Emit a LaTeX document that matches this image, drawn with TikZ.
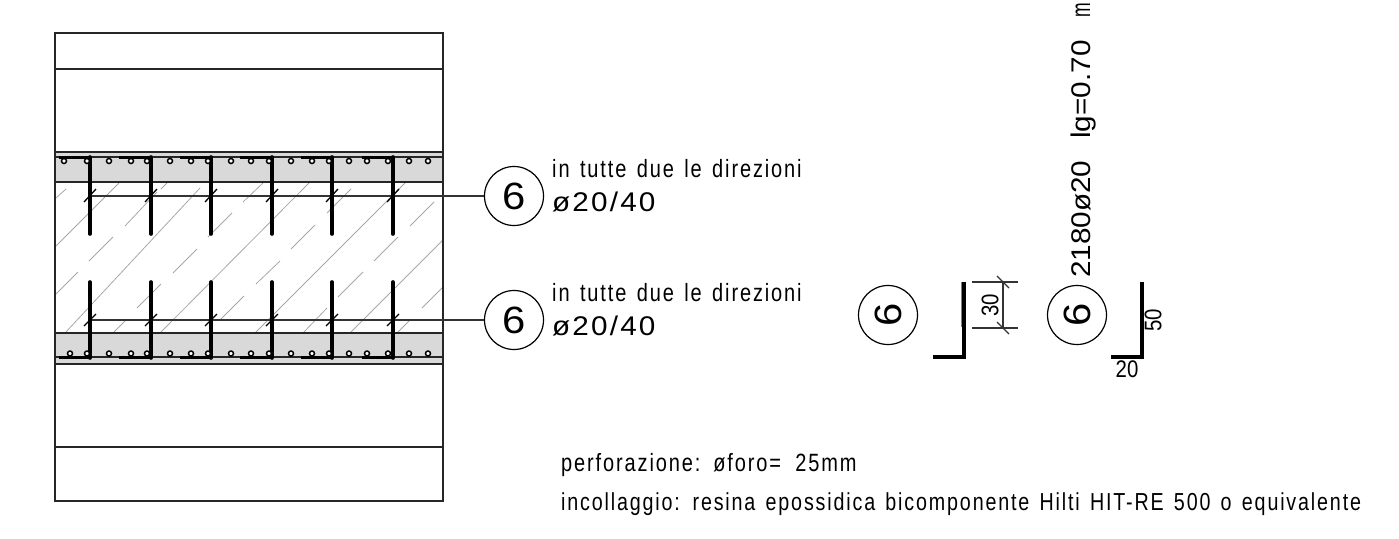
\documentclass[tikz,border=0pt]{standalone}
\usepackage{fontspec}
\newfontfamily\txtfont[FakeStretch=0.8,LetterSpace=7.5,WordSpace=1.4]{Liberation Sans}
\newfontfamily\dimfont[FakeStretch=0.85]{Liberation Sans}
\newfontfamily\numfont[FakeStretch=1.1]{Liberation Sans}
\newfontfamily\narrowfont[FakeStretch=0.65]{Liberation Sans}
\newfontfamily\sizefont[FakeStretch=1.1,LetterSpace=8]{Liberation Sans}
\definecolor{bandgray}{HTML}{D9D9D9}
\definecolor{hatchgray}{HTML}{A8A8A8}
\tikzset{
  contour/.style={line width=1.5pt,draw=black!85},
  hatchline/.style={line width=0.8pt,draw=hatchgray},
  barline/.style={line width=3.6pt,line cap=round,draw=black},
  hookline/.style={line width=3pt,draw=black},
  thinline/.style={line width=1.2pt,draw=black!80},
  rebar/.style={line width=1.5pt,fill=white},
  markcircle/.style={circle,draw,line width=1.2pt,minimum size=59pt,inner sep=0pt,font=\numfont\fontsize{38}{38}\selectfont},
  notetext/.style={anchor=base west,inner sep=0pt,font=\txtfont\fontsize{25}{25}\selectfont},
  numtext/.style={anchor=base west,inner sep=0pt,font=\numfont\fontsize{27}{27}\selectfont},
  sizetext/.style={anchor=base west,inner sep=0pt,font=\sizefont\fontsize{27}{27}\selectfont},
  dimtext/.style={inner sep=0pt,font=\dimfont\fontsize{24}{24}\selectfont}
}
\begin{document}
\begin{tikzpicture}[x=1pt,y=-1pt]
\useasboundingbox (0,0) rectangle (1399,538);
% grey bands
\fill[bandgray] (55,152) rectangle (443,182);
\fill[bandgray] (55,333) rectangle (443,364);
% hatch of the slab
\foreach \xa/\ya/\xb/\yb in {56/198/66/189,56/246/119/183,125/226/157/192,161/189/167/183,
  89/261/113/237,56/294/78/272,65/333/200/188,208/237/232/213,173/273/197/249,137/308/161/284,
  113/333/125/321,160/333/309/183,221/319/244/296,243/202/263/183,291/249/315/225,327/213/351/189,
  256/284/280/261,255/333/405/183,410/226/434/202,374/261/398/237,338/297/363/272,303/333/327/308,
  350/333/443/240,422/308/443/287,397/333/409/321}
  \draw[hatchline] (\xa,\ya) -- (\xb,\yb);
% contour
\draw[contour] (55,33) rectangle (443,501);
\foreach \yy in {69,152,157,182,333,357,364,447}
  \draw[contour] (55,\yy) -- (443,\yy);
% marks and leaders
\node[markcircle] (markTop) at (514,196) {6};
\node[markcircle] (markBot) at (514,320) {6};
\coordinate (leadTop) at (90,196);
\coordinate (leadBot) at (90,320);
\draw[thinline] (leadTop) -- (markTop);
\draw[thinline] (leadBot) -- (markBot);
% anchors
\foreach \xx in {90,151,211,272,332,393}{
  \draw[barline] (\xx,157) -- (\xx,234);
  \draw[barline] (\xx,282) -- (\xx,358);
  \draw[line width=1.3pt] (\xx-6,202) -- (\xx+6,189);
  \draw[line width=1.3pt] (\xx-6,326) -- (\xx+6,314);
}
\foreach \xx in {59,119,180,240,301,362}{
  \draw[hookline] (\xx,157) -- (\xx+32,157);
  \draw[hookline] (\xx,357) -- (\xx+32,357);
}
% longitudinal bars
\foreach \xx in {64,87,109,131,147,170,191,208,231,251,269,291,312,329,349,367,388,409,428}
  \draw[rebar] (\xx,161) circle (2.5);
\foreach \xx in {70,87,109,131,147,170,191,208,231,251,269,291,312,329,349,367,388,409,428}
  \draw[rebar] (\xx,353.5) circle (2.5);
% notes
\node[notetext] (noteTop) at (552,177) {in tutte due le direzioni};
\node[sizetext] (sizeTop) at (552,211) {ø20/40};
\node[notetext] (noteBot) at (552,301) {in tutte due le direzioni};
\node[sizetext] (sizeBot) at (552,335) {ø20/40};
\node[notetext] (drillNote) at (561,471) {perforazione: øforo=\hspace{4pt} 25mm};
\node[notetext,font=\txtfont\fontsize{24.6}{25}\selectfont] (glueNote) at (561,510) {incollaggio: resina epossidica bicomponente Hilti HIT-RE 500 o equivalente};
% bent bar, left
\node[markcircle,rotate=90] (markLeft) at (888,315) {6};
\draw[line width=3.4pt] (933,357) -- (964,357) -- (964,282);
\draw[line width=1pt,draw=black!50] (961,282) -- (961,327);
\coordinate (dimTop) at (1003,282);
\coordinate (dimBot) at (1003,328);
\draw[thinline] (972,282) -- (1018,282);
\draw[thinline] (972,328) -- (1018,328);
\draw[thinline] (dimTop) -- (dimBot);
\draw[thinline] (997,276) -- (1009,288);
\draw[thinline] (997,322) -- (1009,334);
\node[dimtext,rotate=90] (dimLabel) at (990,305) {30};
% bent bar, right
\node[markcircle,rotate=90] (markRight) at (1077,315) {6};
\draw[line width=3.4pt] (1111,357) -- (1142,357) -- (1142,282);
\node[dimtext,rotate=90] (legLabel) at (1153,320) {50};
\node[dimtext] (footLabel) at (1127,369) {20};
\node[numtext,rotate=90] (barLabel) at (1090,278) {2180ø20\hspace{22pt}lg=0.70\hspace{23pt}{\narrowfont m}};
\end{tikzpicture}
\end{document}
